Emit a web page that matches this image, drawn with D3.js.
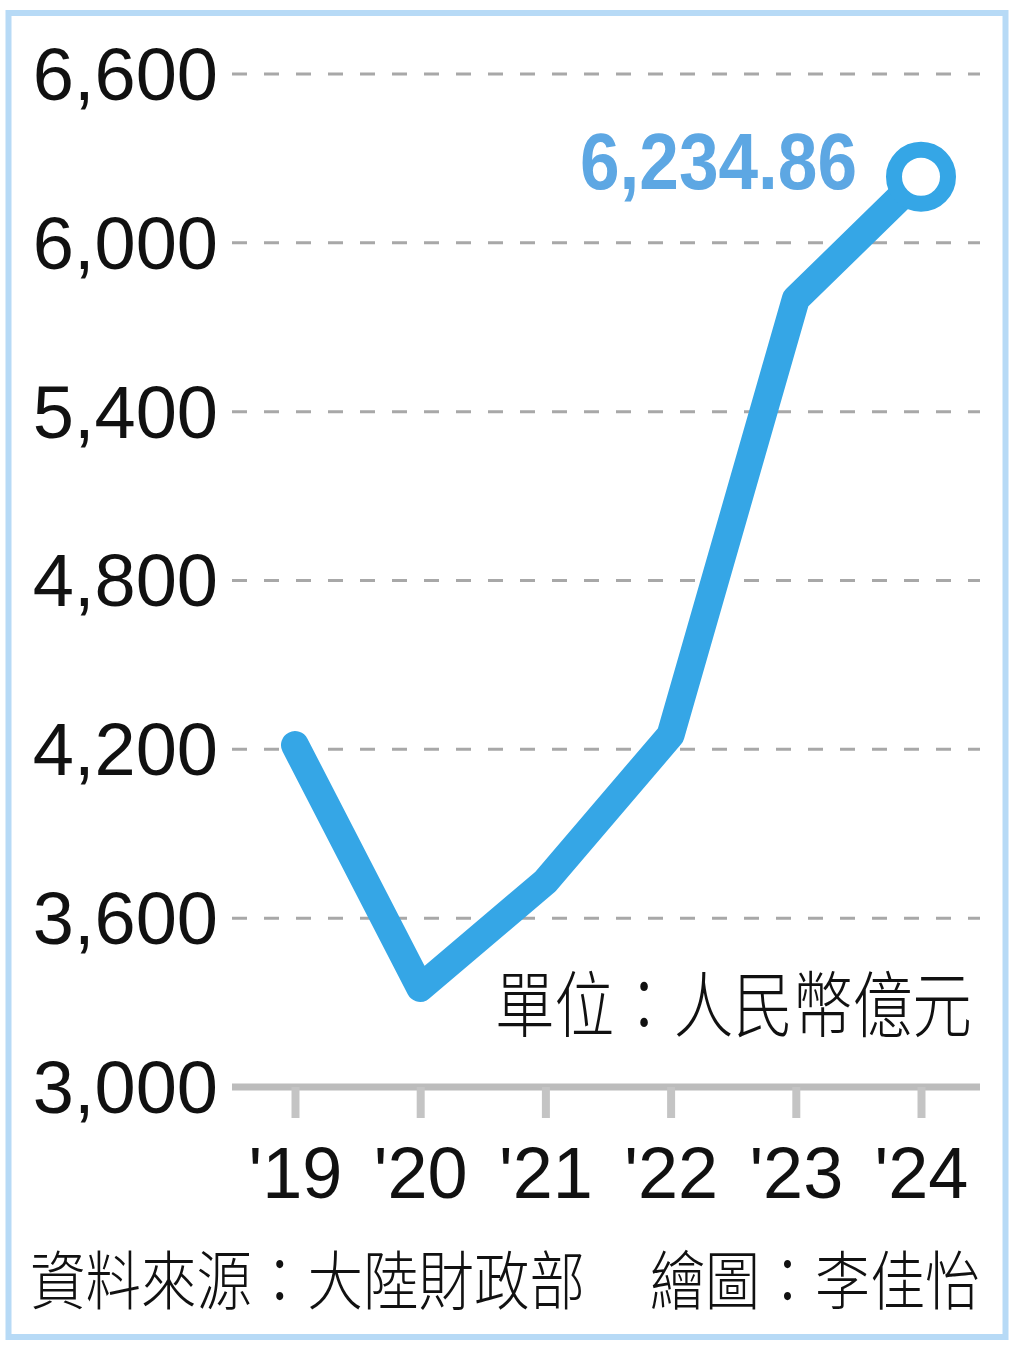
<!DOCTYPE html>
<html>
<head>
<meta charset="utf-8">
<script src="https://cdn.jsdelivr.net/npm/d3@7"></script>
<style>
  body { margin: 0; background: #fff; }
  svg { display: block; }
</style>
</head>
<body>
<div id="chart"></div>
<script>
// data
var years = ["'19", "'20", "'21", "'22", "'23", "'24"];
var revenue = [4215, 3352, 3730, 4251, 5800, 6234.86];
var yTicks = [3000, 3600, 4200, 4800, 5400, 6000, 6600];
var lastLabel = "6,234.86";
var unitText = "單位：人民幣億元";
var sourceText = "資料來源：大陸財政部";
var artistText = "繪圖：李佳怡";

var svgWidth = 1024;
var svgHeight = 1357;

var svg = d3.select("#chart")
    .append("svg")
    .attr("width", svgWidth)
    .attr("height", svgHeight);

// light blue frame
svg.append("rect")
    .attr("x", 8.5)
    .attr("y", 13)
    .attr("width", 997)
    .attr("height", 1324)
    .attr("fill", "#fff")
    .attr("stroke", "#b7daf6")
    .attr("stroke-width", 6);

var xScale = d3.scalePoint()
    .domain(years)
    .range([295, 921]);

var yScale = d3.scaleLinear()
    .domain([3000, 6600])
    .range([1087, 74]);

// dashed gridlines
svg.append("g")
    .selectAll("line")
    .data(yTicks.slice(1))
    .enter()
    .append("line")
    .attr("x1", 232)
    .attr("x2", 980)
    .attr("y1", d => yScale(d))
    .attr("y2", d => yScale(d))
    .attr("stroke", "#a8a8a8")
    .attr("stroke-width", 3)
    .attr("stroke-dasharray", "15,17");

// y labels
svg.append("g")
    .selectAll("text")
    .data(yTicks)
    .enter()
    .append("text")
    .attr("x", 218)
    .attr("y", d => yScale(d))
    .attr("dy", "0.35em")
    .attr("text-anchor", "end")
    .attr("font-family", "Liberation Sans, Arial, sans-serif")
    .attr("font-size", 74)
    .attr("fill", "#111")
    .text(d => d3.format(",")(d));

// x axis baseline + ticks
var bottomAxis = d3.axisBottom(xScale)
    .tickSizeOuter(0)
    .tickSizeInner(31)
    .tickPadding(29);

var xAxis = svg.append("g")
    .attr("transform", `translate(0, ${yScale(3000)})`)
    .call(bottomAxis);

xAxis.select(".domain").remove();
xAxis.insert("line", ":first-child")
    .attr("x1", 232)
    .attr("x2", 980)
    .attr("stroke", "#bcbcbc")
    .attr("stroke-width", 7);

xAxis.selectAll(".tick line")
    .attr("stroke", "#c4c4c4")
    .attr("stroke-width", 8);

xAxis.selectAll(".tick text")
    .attr("font-family", "Liberation Sans, Arial, sans-serif")
    .attr("font-size", 72)
    .attr("fill", "#111")
    .attr("dy", "0.71em");

// the line
var lineData = years.map((y, i) => ({year: y, value: revenue[i]}));

var line = d3.line()
    .x(d => xScale(d.year))
    .y(d => yScale(d.value));

svg.append("path")
    .datum(lineData)
    .attr("d", line)
    .attr("fill", "none")
    .attr("stroke", "#35a6e6")
    .attr("stroke-width", 28)
    .attr("stroke-linejoin", "round")
    .attr("stroke-linecap", "round");

var last = lineData[lineData.length - 1];

svg.append("circle")
    .attr("cx", xScale(last.year))
    .attr("cy", yScale(last.value))
    .attr("r", 27)
    .attr("fill", "#fff")
    .attr("stroke", "#35a6e6")
    .attr("stroke-width", 16);

svg.append("text")
    .attr("x", 580)
    .attr("y", 189)
    .attr("font-family", "Liberation Sans, Arial, sans-serif")
    .attr("font-weight", "bold")
    .attr("font-size", 80)
    .attr("fill", "#5da7e3")
    .attr("textLength", 277)
    .attr("lengthAdjust", "spacingAndGlyphs")
    .text(lastLabel);

// condensed CJK text: squeeze horizontally with a transform
function cjkText(txt, x, y, size, width) {
    var t = svg.append("text")
        .attr("font-family", "Noto Sans CJK TC, sans-serif")
        .attr("font-weight", 300)
        .attr("font-size", size)
        .attr("fill", "#111")
        .text(txt);
    var w = t.node().getComputedTextLength();
    t.attr("transform", `translate(${x}, ${y}) scale(${width / w}, 1)`);
    return t;
}

// unit
cjkText(unitText, 495, 1031, 72, 477);

// footer
cjkText(sourceText, 30, 1304, 64, 555);
cjkText(artistText, 650, 1304, 64, 330);
</script>
</body>
</html>
